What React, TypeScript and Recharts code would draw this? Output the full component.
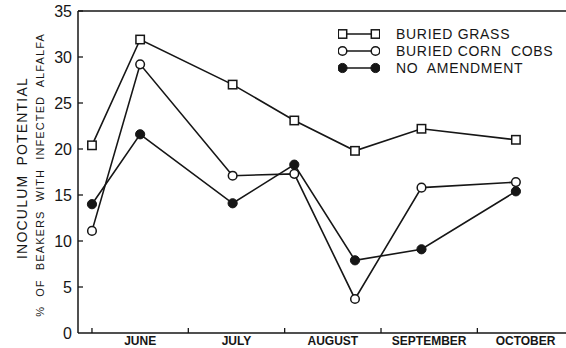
import { LineChart, Line, XAxis, YAxis, ReferenceLine, Legend } from 'recharts';

// sampling dates in months after June 1
const sampleTimes = [0, 0.5, 1.46, 2.1, 2.73, 3.42, 4.4];
const buriedGrass = [20.4, 31.9, 27.0, 23.1, 19.8, 22.2, 21.0];
const buriedCornCobs = [11.1, 29.2, 17.1, 17.3, 3.7, 15.8, 16.4];
const noAmendment = [14.0, 21.6, 14.1, 18.3, 7.9, 9.1, 15.4];

const months = ['JUNE', 'JULY', 'AUGUST', 'SEPTEMBER', 'OCTOBER'];
const yTicks = [0, 5, 10, 15, 20, 25, 30, 35];
const xTicks = months.flatMap((_, i) => [i, i + 0.5]);

const data = sampleTimes.map((t, i) => ({
  t,
  grass: buriedGrass[i],
  cobs: buriedCornCobs[i],
  none: noAmendment[i],
}));

const INK = '#161616';
const FONT = '"Liberation Sans", Arial, sans-serif';

function SquareDot({ cx, cy }: any) {
  if (cx == null || cy == null) return null;
  return <rect x={cx - 4.2} y={cy - 4.2} width={8.4} height={8.4} fill="#fff" stroke={INK} strokeWidth={1.5} />;
}

function OpenDot({ cx, cy }: any) {
  if (cx == null || cy == null) return null;
  return <circle cx={cx} cy={cy} r={4.3} fill="#fff" stroke={INK} strokeWidth={1.5} />;
}

function FilledDot({ cx, cy }: any) {
  if (cx == null || cy == null) return null;
  return <circle cx={cx} cy={cy} r={4.6} fill={INK} stroke={INK} strokeWidth={1} />;
}

const series = [
  { key: 'grass', name: 'BURIED GRASS', Dot: SquareDot },
  { key: 'cobs', name: 'BURIED CORN  COBS', Dot: OpenDot },
  { key: 'none', name: 'NO  AMENDMENT', Dot: FilledDot },
];

function MonthTick({ x, y, payload }: any) {
  const v = payload.value;
  if (Number.isInteger(v)) {
    return <line x1={x} x2={x} y1={y} y2={y - 5} stroke={INK} strokeWidth={1.3} />;
  }
  return (
    <text x={x} y={y + 12} textAnchor="middle" fontSize={12} fontWeight="bold" fontFamily={FONT} fill={INK}>
      {months[Math.floor(v)]}
    </text>
  );
}

function ValueTick({ x, y, payload }: any) {
  return (
    <g>
      {payload.value !== 0 && <line x1={x} x2={x + 5} y1={y} y2={y} stroke={INK} strokeWidth={1.3} />}
      <text x={x - 6} y={y} dy="0.36em" textAnchor="end" fontSize={16} fontFamily={FONT} fill={INK}>
        {payload.value}
      </text>
    </g>
  );
}

function AxisTitle() {
  return (
    <g fill={INK} fontFamily={FONT}>
      <text x={22} y={168} transform="rotate(-90 22 168)" textAnchor="middle" dy="0.36em" fontSize={14} letterSpacing={1.2} wordSpacing={4}>
        INOCULUM POTENTIAL
      </text>
      <text x={40} y={175} transform="rotate(-90 40 175)" textAnchor="middle" dy="0.36em" fontSize={11} letterSpacing={1.1} wordSpacing={5}>
        % OF BEAKERS WITH INFECTED ALFALFA
      </text>
    </g>
  );
}

function LegendContent() {
  return (
    <div style={{ fontFamily: FONT, fontSize: 14, color: INK, letterSpacing: 0.7 }}>
      {series.map(({ key, name, Dot }) => (
        <div key={key} style={{ display: 'flex', alignItems: 'center', height: 17, whiteSpace: 'pre' }}>
          <svg width={42} height={12}>
            <line x1={4.5} x2={37.5} y1={6} y2={6} stroke={INK} strokeWidth={1.5} />
            <Dot cx={4.5} cy={6} />
            <Dot cx={37.5} cy={6} />
          </svg>
          <span style={{ marginLeft: 16 }}>{name}</span>
        </div>
      ))}
    </div>
  );
}

export default function App() {
  return (
    <div style={{ position: 'absolute', left: 0, top: 0, background: '#fff' }}>
      <LineChart width={566} height={348} data={data} margin={{ top: 11, right: 0, bottom: 0, left: 0 }}>
        <XAxis
          dataKey="t"
          type="number"
          domain={[-0.145, 4.92]}
          ticks={xTicks}
          interval={0}
          tickSize={0}
          tickMargin={0}
          tickLine={false}
          tick={<MonthTick />}
          axisLine={{ stroke: INK, strokeWidth: 1.5 }}
          height={15}
          allowDataOverflow
        />
        <YAxis
          type="number"
          domain={[0, 35]}
          ticks={yTicks}
          interval={0}
          width={78}
          tickSize={0}
          tickMargin={0}
          tickLine={false}
          tick={<ValueTick />}
          axisLine={{ stroke: INK, strokeWidth: 1.5 }}
          label={<AxisTitle />}
        />
        <ReferenceLine y={35} stroke={INK} strokeWidth={1.5} />
        <Line type="linear" dataKey="none" stroke={INK} strokeWidth={1.6} dot={<FilledDot />} activeDot={false} isAnimationActive={false} />
        <Line type="linear" dataKey="cobs" stroke={INK} strokeWidth={1.6} dot={<OpenDot />} activeDot={false} isAnimationActive={false} />
        <Line type="linear" dataKey="grass" stroke={INK} strokeWidth={1.6} dot={<SquareDot />} activeDot={false} isAnimationActive={false} />
        <Legend
          layout="vertical"
          align="center"
          verticalAlign="middle"
          content={<LegendContent />}
          wrapperStyle={{ top: 25.8, left: 338, width: 228, height: 52 }}
        />
      </LineChart>
    </div>
  );
}
